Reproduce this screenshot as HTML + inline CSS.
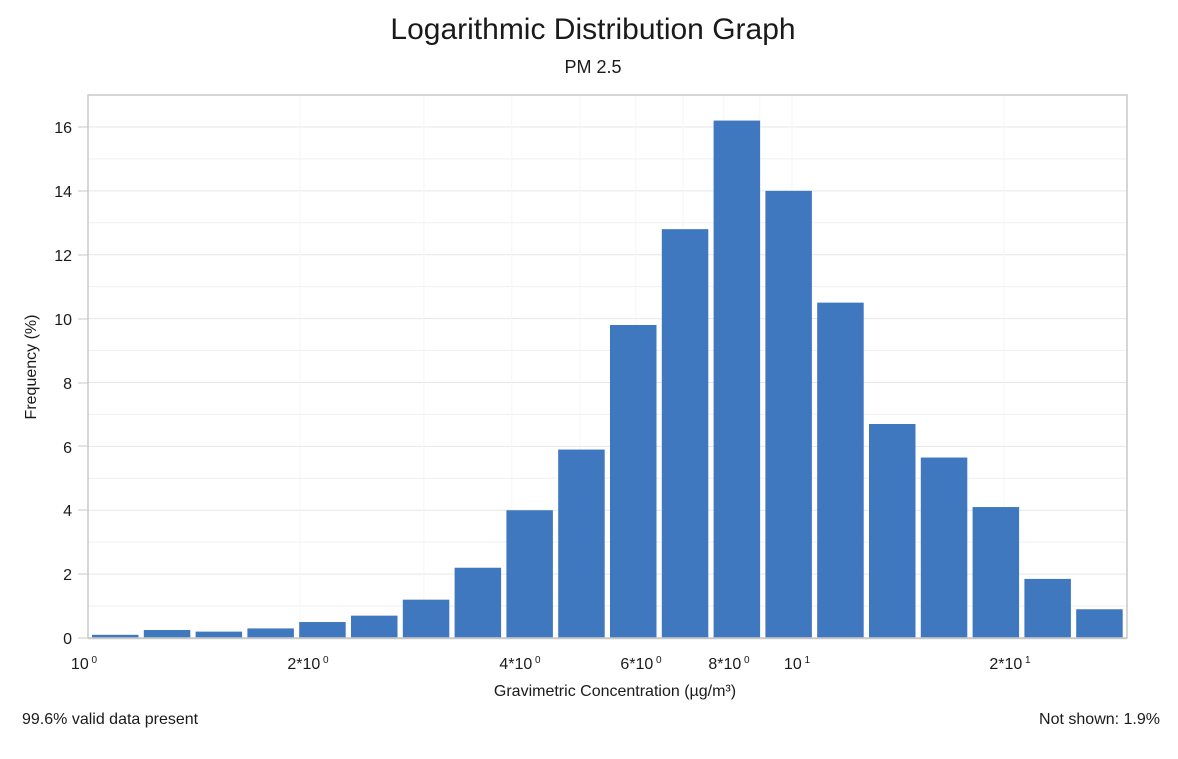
<!DOCTYPE html>
<html><head><meta charset="utf-8"><style>
body{margin:0;background:#fff;}
svg text{font-family:"Liberation Sans",sans-serif;fill:#1a1a1a;}
</style></head><body>
<svg width="1178" height="754" xmlns="http://www.w3.org/2000/svg">
<text x="593" y="39" font-size="30" text-anchor="middle">Logarithmic Distribution Graph</text>
<text x="593" y="73" font-size="18" text-anchor="middle">PM 2.5</text>
<g id="grid" stroke="#eef0f2" stroke-width="1">
</g>
<script>
var g=document.getElementById('grid');var ns="http://www.w3.org/2000/svg";
for(var v=1;v<=17;v++){var y=638-v*31.94;var l=document.createElementNS(ns,'line');l.setAttribute('x1',88);l.setAttribute('x2',1127);l.setAttribute('y1',y);l.setAttribute('y2',y);if(v%2==0)l.setAttribute('stroke','#e4e7ea');g.appendChild(l);}
[2,3,4,5,6,7,8,9,10,20].forEach(function(t){var x=88+Math.log10(t)*704;var l=document.createElementNS(ns,'line');l.setAttribute('x1',x);l.setAttribute('x2',x);l.setAttribute('y1',95);l.setAttribute('y2',638);l.setAttribute('stroke','#f4f5f6');g.appendChild(l);});
</script>
<g id="bars" fill="#3f78be"></g>
<script>
var h=[0.1,0.25,0.2,0.3,0.5,0.7,1.2,2.2,4.0,5.9,9.8,12.8,16.2,14.0,10.5,6.7,5.65,4.1,1.85,0.9];
var b=document.getElementById('bars');
h.forEach(function(v,i){var r=document.createElementNS(ns,'rect');var x=92+i*51.8;r.setAttribute('x',x);r.setAttribute('width',46.5);r.setAttribute('y',638-v*31.94);r.setAttribute('height',v*31.94);b.appendChild(r);});
</script>
<rect x="88" y="95" width="1039" height="543" fill="none" stroke="#c8c8c8" stroke-width="1.5"/>
<line x1="88" y1="638.5" x2="1127" y2="638.5" stroke="#c8c8c8" stroke-width="1.5"/>
<g font-size="16" text-anchor="end">
<text x="72" y="644">0</text><text x="72" y="580">2</text><text x="72" y="516">4</text><text x="72" y="453">6</text><text x="72" y="389">8</text><text x="72" y="325">10</text><text x="72" y="261">12</text><text x="72" y="197">14</text><text x="72" y="133">16</text>
</g>
<g stroke="#c8c8c8"><line x1="78" x2="88" y1="638" y2="638"/><line x1="78" x2="88" y1="574" y2="574"/><line x1="78" x2="88" y1="510" y2="510"/><line x1="78" x2="88" y1="446" y2="446"/><line x1="78" x2="88" y1="383" y2="383"/><line x1="78" x2="88" y1="319" y2="319"/><line x1="78" x2="88" y1="255" y2="255"/><line x1="78" x2="88" y1="191" y2="191"/><line x1="78" x2="88" y1="127" y2="127"/></g>
<g font-size="16" text-anchor="middle">
<text x="84" y="669">10<tspan font-size="10" dy="-6"> 0</tspan></text>
<text x="308" y="669">2*10<tspan font-size="10" dy="-6"> 0</tspan></text>
<text x="520" y="669">4*10<tspan font-size="10" dy="-6"> 0</tspan></text>
<text x="641" y="669">6*10<tspan font-size="10" dy="-6"> 0</tspan></text>
<text x="729" y="669">8*10<tspan font-size="10" dy="-6"> 0</tspan></text>
<text x="797" y="669">10<tspan font-size="10" dy="-6"> 1</tspan></text>
<text x="1010" y="669">2*10<tspan font-size="10" dy="-6"> 1</tspan></text>
</g>
<text x="615" y="696" font-size="16" text-anchor="middle">Gravimetric Concentration (µg/m³)</text>
<text x="36" y="367" font-size="16" text-anchor="middle" transform="rotate(-90 36 367)">Frequency (%)</text>
<text x="22" y="724" font-size="16">99.6% valid data present</text>
<text x="1160" y="724" font-size="16" text-anchor="end">Not shown: 1.9%</text>
</svg>
</body></html>
